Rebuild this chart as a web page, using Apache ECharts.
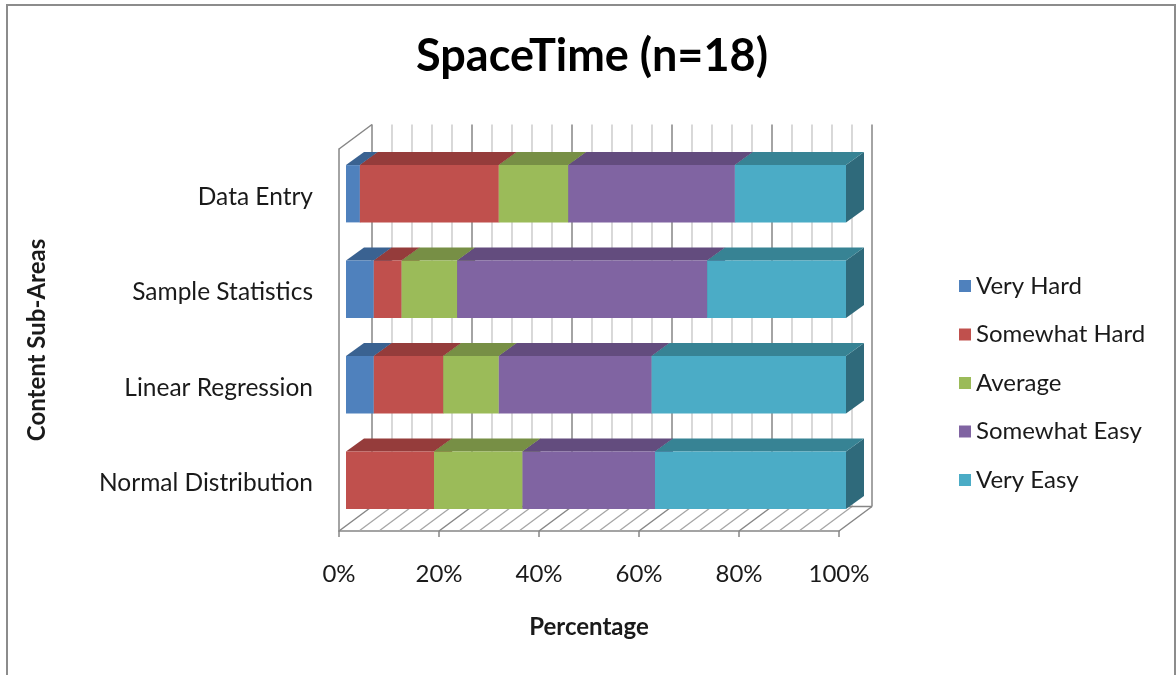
<!DOCTYPE html>
<html>
<head>
<meta charset="utf-8">
<script src="https://cdn.jsdelivr.net/npm/echarts@6/dist/echarts.min.js"></script>
<style>
  html, body { margin: 0; padding: 0; background: #ffffff; }
  #chart { width: 1176px; height: 675px; }
</style>
</head>
<body>
<div id="chart"></div>
<script>
// Content sub-areas, bottom to top along the category axis
const categories = ['Normal Distribution', 'Linear Regression', 'Sample Statistics', 'Data Entry'];
const seriesNames = ['Very Hard', 'Somewhat Hard', 'Average', 'Somewhat Easy', 'Very Easy'];

// Percentage of responses per rating, in the same order as categories
const veryHard     = [0,     5.56,  5.56,  2.78];
const somewhatHard = [17.6,  13.89, 5.56,  27.78];
const average      = [17.7,  11.11, 11.11, 13.89];
const somewhatEasy = [26.5,  30.56, 50.0,  33.33];
const veryEasy     = [38.2,  38.88, 27.77, 22.22];

// Percentage axis ticks
const xMin = 0, xMax = 100, xInterval = 20, minorStep = 4;

const seriesValues = [veryHard, somewhatHard, average, somewhatEasy, veryEasy];

// Face colours of the 3-D bars
const frontColors = ['#4F81BD', '#C0504D', '#9BBB59', '#8064A2', '#4BACC6'];
const topColors   = ['#3A6291', '#953C3B', '#778F45', '#634C7E', '#378394'];
const sideColors  = ['#2E5077', '#7A302F', '#617536', '#503D66', '#2F6A7B'];

const FONT = 'Lato, "Open Sans", sans-serif';
const TEXT = '#1a1a1a';

// Oblique depth of the chart box and of the bars
const DEPTH_X = 33, DEPTH_Y = -24.5;
const BAR_DX = 7, BAR_DY = -3;
const BAR_TOP_X = 18, BAR_TOP_Y = -13;

// Cumulative starts for the stacked segments
const stackStarts = seriesValues.map((vals, s) =>
  vals.map((v, i) => {
    let acc = 0;
    for (let k = 0; k < s; k++) acc += seriesValues[k][i];
    return acc;
  })
);

const chart = echarts.init(document.getElementById('chart'), null, { renderer: 'canvas' });

// Walls, floor and gridlines of the 3-D box
const frameSeries = {
  type: 'custom',
  name: 'frame',
  coordinateSystem: 'cartesian2d',
  silent: true,
  z: 1,
  data: [[0, 0]],
  encode: { x: 0, y: 1 },
  renderItem: function (params, api) {
    const cs = params.coordSys;
    const left = cs.x, top = cs.y, right = cs.x + cs.width, bottom = cs.y + cs.height;
    const children = [];
    const major = '#868686', minor = '#c4c4c4';
    const line = (x1, y1, x2, y2, color, w) => children.push({
      type: 'line',
      shape: { x1: x1, y1: y1, x2: x2, y2: y2 },
      style: { stroke: color, lineWidth: w }
    });
    for (let v = xMin; v <= xMax + 1e-6; v += minorStep) {
      const x = api.coord([v, 0])[0];
      const isMajor = Math.abs(v % xInterval) < 1e-6;
      const c = isMajor ? major : minor;
      const w = isMajor ? 1.5 : 1.3;
      // back wall
      line(x + DEPTH_X, top + DEPTH_Y, x + DEPTH_X, bottom + DEPTH_Y, c, w);
      // floor
      line(x, bottom, x + DEPTH_X, bottom + DEPTH_Y, isMajor ? major : '#a6a6a6', w);
    }
    // back edge of floor
    line(left + DEPTH_X, bottom + DEPTH_Y, right + DEPTH_X, bottom + DEPTH_Y, major, 1.5);
    // top edge of left wall
    line(left, top, left + DEPTH_X, top + DEPTH_Y, major, 1.5);
    return { type: 'group', children: children };
  }
};

function barSeries(idx) {
  const vals = seriesValues[idx];
  return {
    type: 'custom',
    name: seriesNames[idx],
    coordinateSystem: 'cartesian2d',
    z: 2 + idx,
    itemStyle: { color: frontColors[idx] },
    encode: { x: [1, 2], y: 0 },
    data: vals.map((v, i) => [i, stackStarts[idx][i], stackStarts[idx][i] + v]),
    renderItem: function (params, api) {
      const cat = api.value(0), s = api.value(1), e = api.value(2);
      if (e - s <= 0) return null;
      const p0 = api.coord([s, cat]);
      const p1 = api.coord([e, cat]);
      const h = api.size([0, 1])[1] * 0.6;
      const xs = p0[0] + BAR_DX, xe = p1[0] + BAR_DX;
      const yt = p0[1] + BAR_DY - h / 2, yb = yt + h;
      return {
        type: 'group',
        children: [
          {
            type: 'polygon',
            shape: { points: [[xe, yt], [xe + BAR_TOP_X, yt + BAR_TOP_Y], [xe + BAR_TOP_X, yb + BAR_TOP_Y], [xe, yb]] },
            style: { fill: sideColors[idx] }
          },
          {
            type: 'polygon',
            shape: { points: [[xs, yt], [xe, yt], [xe + BAR_TOP_X, yt + BAR_TOP_Y], [xs + BAR_TOP_X, yt + BAR_TOP_Y]] },
            style: { fill: topColors[idx] }
          },
          {
            type: 'rect',
            shape: { x: xs, y: yt, width: xe - xs, height: h },
            style: { fill: frontColors[idx] }
          }
        ]
      };
    }
  };
}

const option = {
  animation: false,
  backgroundColor: '#ffffff',
  color: frontColors,
  graphic: [{
    type: 'rect',
    shape: { x: 7, y: 5, width: 1168, height: 700 },
    style: { fill: 'none', stroke: '#8c8c8c', lineWidth: 2 },
    silent: true
  }],
  title: {
    text: 'SpaceTime (n=18)',
    left: 587,
    top: 29,
    textAlign: 'center',
    textStyle: { fontFamily: FONT, fontSize: 45, fontWeight: 'bold', color: '#000' }
  },
  legend: {
    data: seriesNames,
    orient: 'vertical',
    left: 954,
    top: 269,
    icon: 'rect',
    itemWidth: 12,
    itemHeight: 12,
    itemGap: 24.5,
    textStyle: { fontFamily: FONT, fontSize: 24, color: TEXT, lineHeight: 24 }
  },
  grid: { left: 339, right: 337, top: 149, height: 382 },
  xAxis: {
    type: 'value',
    min: xMin,
    max: xMax,
    interval: xInterval,
    name: 'Percentage',
    nameLocation: 'middle',
    nameGap: 84,
    nameTextStyle: { fontFamily: FONT, fontSize: 24, fontWeight: 'bold', color: TEXT },
    axisLine: { show: true, lineStyle: { color: '#868686', width: 1.5 } },
    axisTick: { show: true, length: 6, lineStyle: { color: '#868686', width: 1.5 } },
    axisLabel: { formatter: '{value}%', margin: 31, fontFamily: FONT, fontSize: 24, color: TEXT },
    splitLine: { show: false }
  },
  yAxis: {
    type: 'category',
    data: categories,
    name: 'Content Sub-Areas',
    nameLocation: 'middle',
    nameGap: 290,
    nameTextStyle: { fontFamily: FONT, fontSize: 24, fontWeight: 'bold', color: TEXT },
    axisLine: { show: true, lineStyle: { color: '#868686', width: 1.5 } },
    axisTick: { show: false },
    axisLabel: { margin: 26, fontFamily: FONT, fontSize: 24.5, color: TEXT },
    splitLine: { show: false }
  },
  series: [frameSeries].concat(seriesNames.map((_, i) => barSeries(i)))
};

chart.setOption(option);
</script>
</body>
</html>
